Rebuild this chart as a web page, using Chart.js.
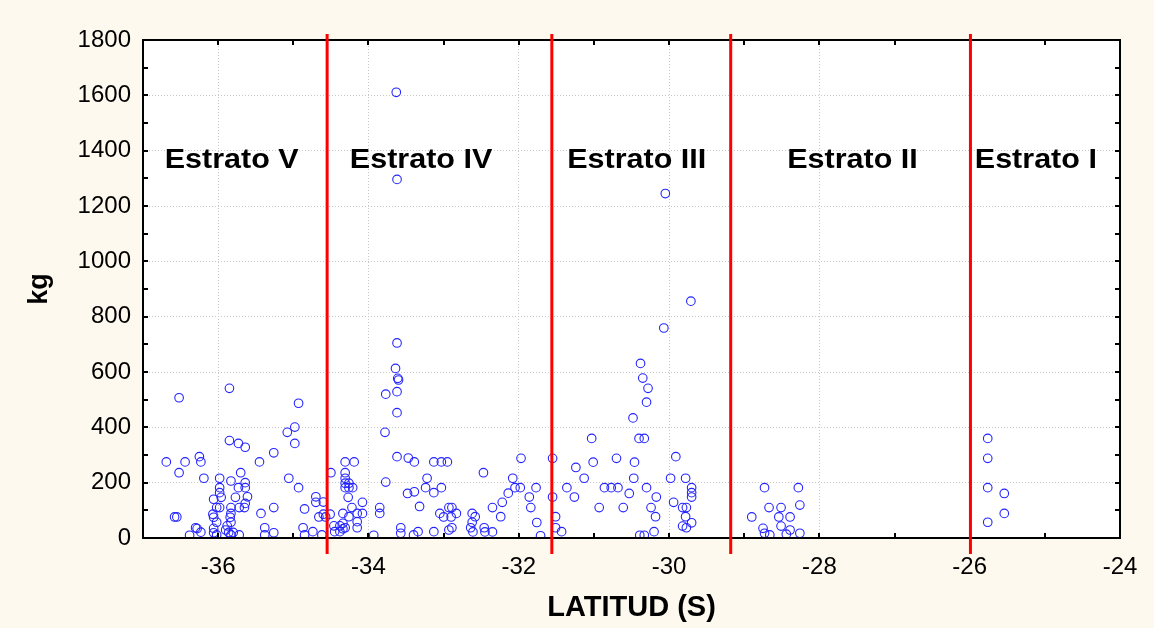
<!DOCTYPE html>
<html><head><meta charset="utf-8">
<script src="https://cdn.jsdelivr.net/npm/chart.js@4/dist/chart.umd.min.js"></script>
<style>html,body{margin:0;padding:0;background:#FEF9EE;}#wrap{width:1154px;height:628px;}</style>
</head><body><div id="wrap"><canvas id="c" width="1154" height="628"></canvas></div>
<script>
// ---- data (latitude S, kg) ----
const latV = [-36.69,-36.58,-36.55,-36.52,-36.52,-36.44,-36.38,-36.30,-36.28,-36.25,-36.23,-36.23,-36.19,-36.07,-36.06,-36.06,-36.06,-36.06,-36.02,-36.02,-36.02,-35.98,-35.98,-35.98,-35.96,-35.98,-35.85,-35.85,-35.83,-35.83,-35.83,-35.84,-35.83,-35.88,-35.90,-35.86,-35.80,-35.83,-35.77,-35.73,-35.73,-35.72,-35.72,-35.70,-35.64,-35.64,-35.64,-35.61,-35.64,-35.65,-35.45,-35.43,-35.38,-35.38,-35.26,-35.26,-35.26,-35.08,-34.98,-34.98,-35.06,-34.93,-34.93,-34.85,-34.87,-34.85,-34.74,-34.70,-34.70,-34.60,-34.66,-34.60,-34.57,-34.62];
const kgV  = [275,76,76,507,236,275,10,37,34,294,275,21,216,86,140,75,35,19,110,57,11,216,182,164,147,110,541,352,206,110,89,75,57,44,29,20,20,11,147,342,182,110,11,236,328,200,182,149,125,110,275,89,37,11,308,110,19,382,401,342,216,487,182,105,37,11,23,149,129,130,76,86,76,11];

const latIV = [-34.50,-34.51,-34.46,-34.45,-34.38,-34.38,-34.34,-34.34,-34.31,-34.31,-34.19,-34.31,-34.31,-34.31,-34.26,-34.31,-34.26,-34.21,-34.27,-34.22,-34.34,-34.26,-34.15,-34.08,-34.08,-34.15,-34.15,-33.93,-33.85,-33.85,-33.78,-33.77,-33.77,-33.64,-33.61,-33.60,-33.62,-33.62,-33.62,-33.62,-33.63,-33.62,-33.57,-33.57,-33.47,-33.39,-33.48,-33.39,-33.32,-33.40,-33.34,-33.22,-33.24,-33.13,-33.03,-33.13,-33.03,-32.95,-33.13,-33.05,-33.00,-32.93,-32.89,-32.90,-32.83,-32.89,-32.93,-32.47,-32.62,-32.58,-32.62,-32.64,-32.61,-32.46,-32.45,-32.35,-32.35,-32.24,-32.22,-32.14,-32.08,-32.05,-31.98,-31.97,-31.86,-31.84,-31.77,-31.76,-31.71];
const kgIV  = [236,86,44,23,44,23,53,33,37,275,275,236,216,198,198,182,182,182,147,110,89,77,89,89,129,59,37,10,110,89,382,520,202,613,577,571,529,453,294,705,1611,1296,37,17,289,275,161,167,114,11,23,216,182,164,182,275,275,275,23,89,76,110,110,76,89,37,29,236,89,77,57,37,22,37,22,22,110,77,129,162,216,182,182,288,148,110,182,56,8];

const latIII = [-31.55,-31.55,-31.51,-31.51,-31.43,-31.36,-31.26,-31.24,-31.13,-31.03,-31.01,-30.93,-30.86,-30.77,-30.68,-30.70,-30.61,-30.53,-30.48,-30.47,-30.46,-30.40,-30.33,-30.38,-30.35,-30.28,-30.30,-30.30,-30.24,-30.18,-30.17,-30.20,-30.39,-30.33,-30.05,-29.71,-30.07,-29.98,-29.94,-29.91,-29.82,-29.77,-29.78,-29.82,-29.77,-29.70,-29.78,-29.70,-29.70,-29.70];
const kgIII  = [288,148,77,37,23,182,148,255,216,360,274,110,182,182,182,288,110,161,434,216,274,360,360,631,578,541,491,182,110,77,148,23,10,10,1245,856,759,216,129,294,110,110,77,43,37,55,216,182,164,148];

const latII = [-28.90,-28.75,-28.73,-28.73,-28.67,-28.66,-28.54,-28.51,-28.51,-28.44,-28.39,-28.39,-28.28,-28.26,-28.26];
const kgII  = [76,35,182,17,110,11,76,110,43,14,76,29,182,119,17];

const latI = [-25.76,-25.76,-25.76,-25.76,-25.54,-25.54];
const kgI  = [360,288,182,57,161,89];

// stratum boundaries and labels
const strataBounds = [-34.55, -31.56, -29.18, -25.99];
const strataNames  = ['Estrato V','Estrato IV','Estrato III','Estrato II','Estrato I'];
const strataLabelX = [-35.82, -33.30, -30.43, -27.56, -25.12];
const strataLabelY = 1366;

const xTicks = [-36,-34,-32,-30,-28,-26,-24];
const yTicks = [0,200,400,600,800,1000,1200,1400,1600,1800];

const toPts = (xs, ys) => xs.map((x, i) => ({x: x, y: ys[i]}));
const ptStyle = {pointRadius: 4.3, pointBorderWidth: 1.1, pointBorderColor: '#2323ff', pointBackgroundColor: 'rgba(0,0,0,0)', showLine: false};

const FONT = 'Arial, "Liberation Sans", sans-serif';

const framePlugin = {
  id: 'frame',
  beforeDraw(chart) {
    const {ctx, chartArea: a} = chart;
    ctx.save();
    ctx.fillStyle = '#FEF9EE';
    ctx.fillRect(0, 0, chart.width, chart.height);
    ctx.fillStyle = '#ffffff';
    ctx.fillRect(a.left, a.top, a.right - a.left, a.bottom - a.top);
    ctx.restore();
  },
  afterDatasetsDraw(chart) {
    const {ctx, chartArea: a, scales: {x, y}} = chart;
    ctx.save();
    // frame
    ctx.strokeStyle = '#000';
    ctx.lineWidth = 2;
    ctx.strokeRect(a.left, a.top, a.right - a.left, a.bottom - a.top);
    // inward ticks (major + minor)
    ctx.lineWidth = 2;
    ctx.beginPath();
    for (let v = x.min; v <= x.max + 1e-9; v += 1) {
      const px = Math.round(x.getPixelForValue(v));
      ctx.moveTo(px, a.bottom); ctx.lineTo(px, a.bottom - 5);
      ctx.moveTo(px, a.top); ctx.lineTo(px, a.top + 5);
    }
    for (let v = y.min; v <= y.max + 1e-9; v += 100) {
      const py = Math.round(y.getPixelForValue(v));
      ctx.moveTo(a.left, py); ctx.lineTo(a.left + 5, py);
      ctx.moveTo(a.right, py); ctx.lineTo(a.right - 5, py);
    }
    ctx.stroke();
    // strata boundaries
    ctx.strokeStyle = '#ff0000';
    ctx.lineWidth = 3;
    ctx.beginPath();
    strataBounds.forEach(b => {
      const px = x.getPixelForValue(b);
      ctx.moveTo(px, a.top - 6); ctx.lineTo(px, a.bottom + 16);
    });
    ctx.stroke();
    // strata labels
    ctx.fillStyle = '#000';
    ctx.font = 'bold 27px ' + FONT;
    ctx.textAlign = 'center';
    ctx.textBaseline = 'middle';
    strataNames.forEach((t, i) => {
      const px = x.getPixelForValue(strataLabelX[i]);
      const py = y.getPixelForValue(strataLabelY);
      ctx.save();
      ctx.translate(px, py);
      ctx.scale(1.13, 1);
      ctx.fillText(t, 0, 0);
      ctx.restore();
    });
    ctx.restore();
  }
};

new Chart(document.getElementById('c'), {
  type: 'scatter',
  data: {
    datasets: [
      Object.assign({label: 'Estrato V', data: toPts(latV, kgV)}, ptStyle),
      Object.assign({label: 'Estrato IV', data: toPts(latIV, kgIV)}, ptStyle),
      Object.assign({label: 'Estrato III', data: toPts(latIII, kgIII)}, ptStyle),
      Object.assign({label: 'Estrato II', data: toPts(latII, kgII)}, ptStyle),
      Object.assign({label: 'Estrato I', data: toPts(latI, kgI)}, ptStyle)
    ]
  },
  options: {
    responsive: false,
    animation: false,
    events: [],
    layout: {padding: {left: 0, right: 34, top: 40, bottom: 0}},
    plugins: {legend: {display: false}, tooltip: {enabled: false}},
    scales: {
      x: {
        type: 'linear', min: -37, max: -24,
        afterBuildTicks: s => { s.ticks = xTicks.map(v => ({value: v})); },
        afterFit: s => { s.height = 90; },
        grid: {color: '#c8c8c8', lineWidth: 1, drawTicks: false},
        border: {display: false, dash: [1,2]},
        ticks: {color: '#000', font: {family: FONT, size: 24}, padding: 15, maxRotation: 0, autoSkip: false, callback: v => String(v)},
        title: {display: true, text: 'LATITUD (S)', color: '#000', font: {family: FONT, size: 29, weight: 'bold', lineHeight: 1}, padding: {top: 0, bottom: 6}}
      },
      y: {
        type: 'linear', min: 0, max: 1800,
        afterBuildTicks: s => { s.ticks = yTicks.map(v => ({value: v})); },
        afterFit: s => { s.width = 143; },
        grid: {color: '#c8c8c8', lineWidth: 1, drawTicks: false},
        border: {display: false, dash: [1,2]},
        ticks: {color: '#000', font: {family: FONT, size: 24}, padding: 12, autoSkip: false, callback: v => String(v)},
        title: {display: true, text: 'kg', color: '#000', font: {family: FONT, size: 27, weight: 'bold', lineHeight: 1}, padding: {top: 26, bottom: 0}}
      }
    }
  },
  plugins: [framePlugin]
});
</script>
</body></html>
